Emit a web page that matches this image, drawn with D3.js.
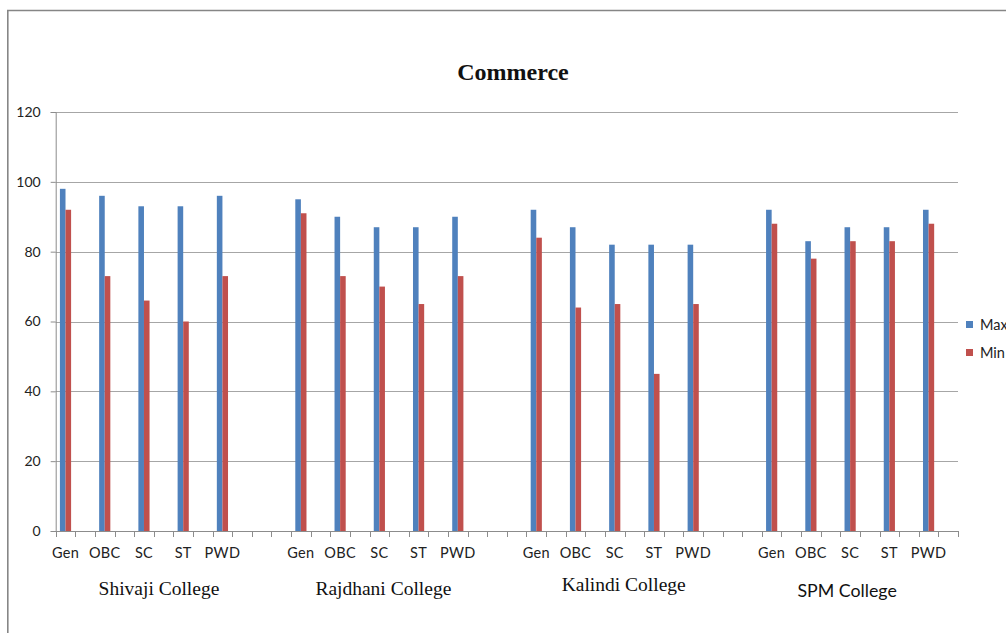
<!DOCTYPE html>
<html><head><meta charset="utf-8">
<script src="https://cdn.jsdelivr.net/npm/d3@7"></script>
<style>body{margin:0;background:#fff;}svg{display:block;}</style>
</head><body>
<svg id="c" width="1006" height="633"></svg>
<script>
const colleges = ["Shivaji College", "Rajdhani College", "Kalindi College", "SPM College"];
const categories = ["Gen", "OBC", "SC", "ST", "PWD"];
const maxValues = [
  [98, 96, 93, 93, 96],
  [95, 90, 87, 87, 90],
  [92, 87, 82, 82, 82],
  [92, 83, 87, 87, 92]
];
const minValues = [
  [92, 73, 66, 60, 73],
  [91, 73, 70, 65, 73],
  [84, 64, 65, 45, 65],
  [88, 78, 83, 83, 88]
];
const seriesNames = ["Max", "Min"];
const yTicks = [0, 20, 40, 60, 80, 100, 120];

const colors = ["#4f81bd", "#c0504d"];
const svg = d3.select("#c");
const L = 55.7, R = 958, T = 112, B = 531;

// Category slots: each category followed by an empty slot; 2 more empty slots between colleges
const slots = [];
colleges.forEach((c, gi) => {
  categories.forEach((cat, ci) => {
    slots.push({key: gi + "-" + ci, gi, ci, cat});
    slots.push({key: gi + "-" + ci + "-b", blank: true});
  });
  if (gi < colleges.length - 1) {
    slots.push({key: gi + "-g1", blank: true});
    slots.push({key: gi + "-g2", blank: true});
  }
});
const x = d3.scaleBand().domain(slots.map(s => s.key)).range([L, R]).padding(0);
const y = d3.scaleLinear().domain([0, 120]).range([B, T]);

// border
svg.append("path").attr("d", `M7.8,633 V10.5 H1006`).attr("fill", "none")
  .attr("stroke", "#868686").attr("stroke-width", 1.6);

// gridlines
svg.append("g").selectAll("line").data(yTicks.filter(d => d > 0)).join("line")
  .attr("x1", L).attr("x2", R).attr("y1", d => Math.round(y(d)) + 0.5).attr("y2", d => Math.round(y(d)) + 0.5)
  .attr("stroke", "#a6a6a6").attr("stroke-width", 1);

// y axis
const yAxis = d3.axisLeft(y).tickValues(yTicks).tickSize(5).tickPadding(6);
const yg = svg.append("g").attr("transform", `translate(${L},0)`).call(yAxis);
yg.select(".domain").attr("stroke", "#8c8c8c");
yg.selectAll(".tick line").attr("stroke", "#8c8c8c");
yg.selectAll("text").attr("font-family", "Lato, 'Open Sans', sans-serif").attr("font-size", 14).attr("fill", "#222").attr("dx", -4);

// x axis line and ticks
svg.append("line").attr("x1", L).attr("x2", R).attr("y1", B + 0.5).attr("y2", B + 0.5).attr("stroke", "#8c8c8c");
const bounds = slots.map(s => x(s.key)).concat([R]);
svg.append("g").selectAll("line").data(bounds).join("line")
  .attr("x1", d => Math.round(d) + 0.5).attr("x2", d => Math.round(d) + 0.5)
  .attr("y1", B).attr("y2", B + 6).attr("stroke", "#8c8c8c");

// bars
const bw = x.bandwidth() * 0.285;
const catSlots = slots.filter(s => !s.blank);
const barData = [];
catSlots.forEach(s => {
  [maxValues, minValues].forEach((arr, si) => {
    barData.push({slot: s, si, v: arr[s.gi][s.ci]});
  });
});
svg.append("g").selectAll("rect").data(barData).join("rect")
  .attr("x", d => x(d.slot.key) + x.bandwidth() / 2 - bw + d.si * bw)
  .attr("width", bw)
  .attr("y", d => y(d.v))
  .attr("height", d => y(0) - y(d.v))
  .attr("fill", d => colors[d.si]);

// category labels
svg.append("g").selectAll("text").data(catSlots).join("text")
  .attr("x", s => x(s.key) + x.bandwidth() / 2)
  .attr("y", 558)
  .attr("text-anchor", "middle")
  .attr("font-family", "Lato, 'Open Sans', sans-serif").attr("font-size", 14.5).attr("fill", "#222")
  .attr("letter-spacing", 0.3)
  .text(s => s.cat);

// college labels
const collegeFonts = ["'Liberation Serif', serif", "'Liberation Serif', serif", "'Liberation Serif', serif", "Lato, sans-serif"];
const collegeY = [595, 595, 591, 597];
const collegeDx = [15, 4, 9, -3];
const collegeSize = [19.5, 19.5, 19.5, 17.8];
svg.append("g").selectAll("text").data(colleges).join("text")
  .attr("x", (c, gi) => (x(gi + "-0") + x(gi + "-4") + x.bandwidth()) / 2 + collegeDx[gi])
  .attr("y", (c, gi) => collegeY[gi])
  .attr("text-anchor", "middle")
  .attr("font-family", (c, gi) => collegeFonts[gi])
  .attr("font-size", (c, gi) => collegeSize[gi])
  .attr("fill", "#111")
  .text(c => c);

// title
svg.append("text").attr("x", 513).attr("y", 80).attr("text-anchor", "middle")
  .attr("font-family", "'Liberation Serif', serif").attr("font-weight", "bold").attr("font-size", 24)
  .attr("fill", "#111").text("Commerce");

// legend
const lg = svg.append("g").selectAll("g").data(seriesNames).join("g")
  .attr("transform", (d, i) => `translate(966,${321 + i * 28})`);
lg.append("rect").attr("width", 7).attr("height", 7).attr("fill", (d, i) => colors[i]);
lg.append("text").attr("x", 14).attr("y", 9).attr("font-family", "Lato, 'Open Sans', sans-serif")
  .attr("font-size", 14.5).attr("fill", "#222").text(d => d);
</script>
</body></html>
